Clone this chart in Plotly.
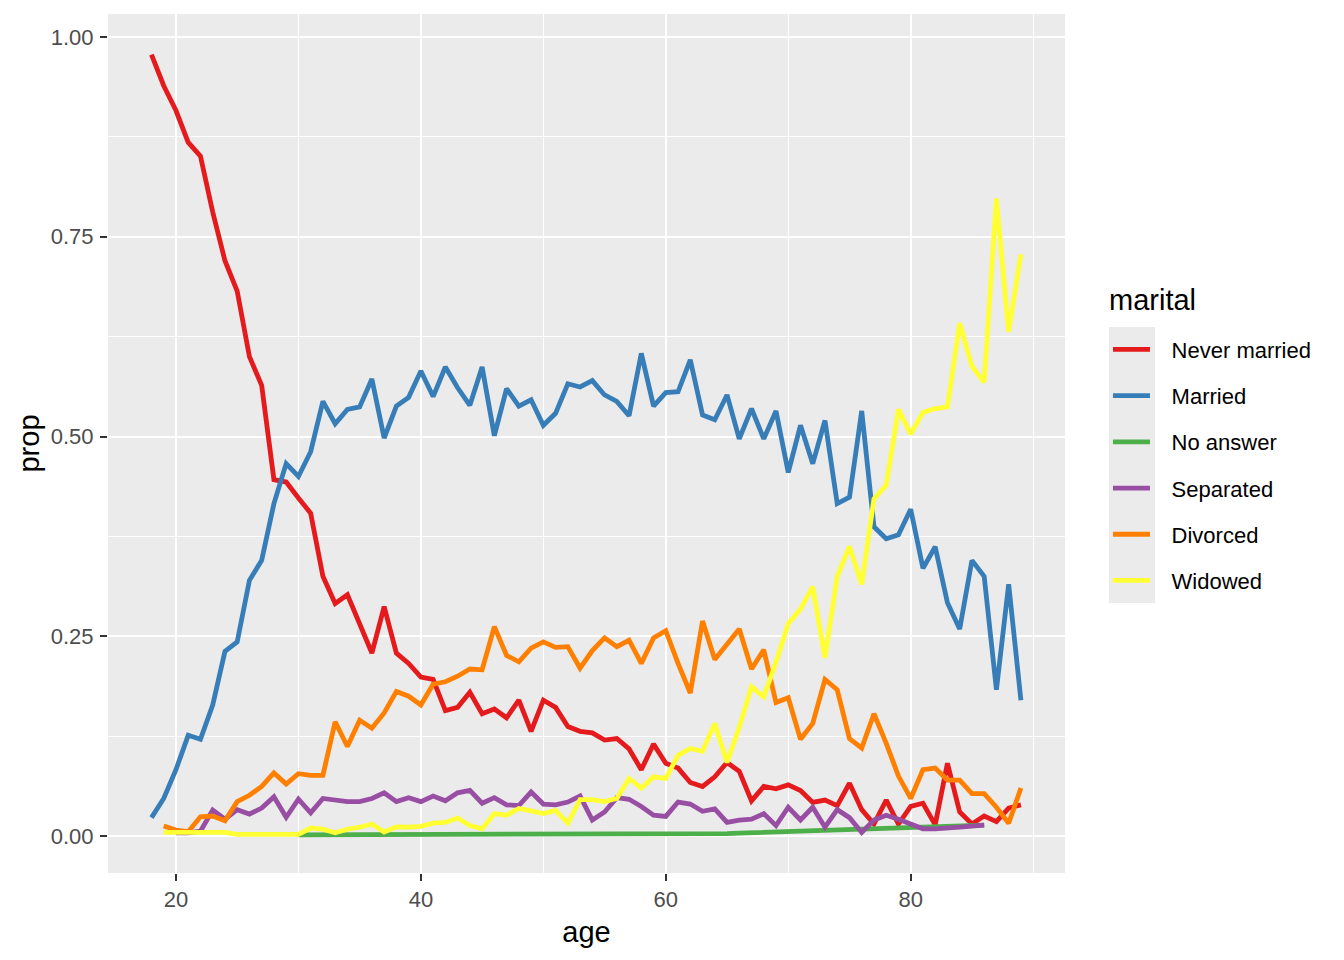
import plotly.graph_objects as go

# ---- data ----
ages_never = list(range(18, 90))
never_married = [0.978, 0.939, 0.908, 0.868, 0.851, 0.781, 0.720, 0.682, 0.600, 0.564,  # 18-27
                 0.446, 0.443, 0.423, 0.404, 0.325, 0.291, 0.302, 0.264, 0.229, 0.287,  # 28-37
                 0.229, 0.216, 0.199, 0.196, 0.157, 0.161, 0.180, 0.153, 0.159, 0.148,  # 38-47
                 0.170, 0.131, 0.170, 0.161, 0.137, 0.131, 0.129, 0.120, 0.122, 0.109,  # 48-57
                 0.083, 0.115, 0.091, 0.085, 0.067, 0.062, 0.074, 0.092, 0.081, 0.044,  # 58-67
                 0.062, 0.059, 0.064, 0.057, 0.042, 0.045, 0.038, 0.066, 0.033, 0.015,  # 68-77
                 0.045, 0.015, 0.037, 0.041, 0.014, 0.091, 0.030, 0.015, 0.025, 0.018,  # 78-87
                 0.035, 0.039]                                                          # 88-89

ages_married = list(range(18, 90))
married = [0.023, 0.047, 0.083, 0.126, 0.121, 0.164, 0.231, 0.243, 0.320, 0.345,  # 18-27
           0.416, 0.466, 0.450, 0.481, 0.544, 0.516, 0.534, 0.537, 0.572, 0.498,  # 28-37
           0.538, 0.549, 0.582, 0.550, 0.587, 0.561, 0.539, 0.587, 0.501, 0.560,  # 38-47
           0.538, 0.546, 0.514, 0.529, 0.566, 0.562, 0.570, 0.552, 0.544, 0.526,  # 48-57
           0.604, 0.538, 0.555, 0.556, 0.596, 0.527, 0.521, 0.552, 0.497, 0.535,  # 58-67
           0.497, 0.532, 0.455, 0.514, 0.466, 0.520, 0.416, 0.424, 0.532, 0.387,  # 68-77
           0.372, 0.377, 0.409, 0.335, 0.362, 0.292, 0.259, 0.345, 0.325, 0.183,  # 78-87
           0.315, 0.170]                                                          # 88-89

ages_noanswer = list(range(30, 87))
no_answer = [0.0015, 0.0015, 0.0015, 0.0015, 0.0015, 0.0015, 0.0015, 0.0015, 0.0015, 0.0015,  # 30-39
             0.0015, 0.0015, 0.0025, 0.0025, 0.0025, 0.0015, 0.0015, 0.0015, 0.0015, 0.0015,  # 40-49
             0.0015, 0.0015, 0.0015, 0.0015, 0.0015, 0.0015, 0.0015, 0.0015, 0.0015, 0.0015,  # 50-59
             0.0015, 0.0015, 0.0015, 0.0025, 0.0025, 0.003, 0.0035, 0.004, 0.0045, 0.005,     # 60-69
             0.0055, 0.006, 0.0065, 0.007, 0.0075, 0.008, 0.0085, 0.009, 0.0095, 0.010,      # 70-79
             0.0105, 0.011, 0.0115, 0.012, 0.0125, 0.013, 0.0135]                             # 80-86

ages_separated = list(range(20, 87))
separated = [0.004, 0.004, 0.006, 0.0325, 0.021, 0.033, 0.0275, 0.035, 0.049, 0.0235,  # 20-29
             0.046, 0.029, 0.047, 0.045, 0.043, 0.043, 0.047, 0.054, 0.043, 0.048,     # 30-39
             0.043, 0.050, 0.044, 0.054, 0.057, 0.041, 0.048, 0.039, 0.038, 0.055,     # 40-49
             0.040, 0.039, 0.0425, 0.050, 0.020, 0.030, 0.048, 0.046, 0.037, 0.026,    # 50-59
             0.0245, 0.0425, 0.040, 0.031, 0.034, 0.017, 0.020, 0.021, 0.028, 0.013,   # 60-69
             0.036, 0.020, 0.036, 0.011, 0.033, 0.023, 0.0045, 0.020, 0.026, 0.021,    # 70-79
             0.015, 0.009, 0.009, 0.0095, 0.011, 0.0125, 0.0135]                        # 80-86

ages_divorced = list(range(19, 90))
divorced = [0.0125, 0.0075, 0.0054, 0.024, 0.025, 0.019, 0.043, 0.051, 0.062, 0.079,  # 19-28
            0.065, 0.078, 0.076, 0.076, 0.143, 0.112, 0.145, 0.135, 0.154, 0.181,      # 29-38
            0.175, 0.164, 0.190, 0.193, 0.200, 0.209, 0.208, 0.262, 0.226, 0.218,      # 39-48
            0.235, 0.243, 0.236, 0.237, 0.210, 0.232, 0.248, 0.237, 0.245, 0.216,      # 49-58
            0.248, 0.257, 0.216, 0.179, 0.269, 0.221, 0.240, 0.259, 0.209, 0.233,      # 59-68
            0.167, 0.173, 0.121, 0.141, 0.196, 0.183, 0.122, 0.110, 0.153, 0.116,      # 69-78
            0.075, 0.047, 0.083, 0.085, 0.070, 0.070, 0.053, 0.053, 0.036, 0.016,      # 79-88
            0.060]                                                                     # 89

ages_widowed = list(range(19, 90))
widowed = [0.0045, 0.0045, 0.0045, 0.0045, 0.0045, 0.0045,                            # 19-24
           0.002, 0.002, 0.002, 0.002, 0.002, 0.002,                                  # 25-30
           0.0100, 0.0085, 0.004, 0.0085, 0.011, 0.015, 0.005, 0.0115, 0.011, 0.012,  # 31-40
           0.016, 0.017, 0.0225, 0.013, 0.009, 0.028, 0.026, 0.0345, 0.0315, 0.028,   # 41-50
           0.032, 0.016, 0.0455, 0.0455, 0.043, 0.047, 0.072, 0.060, 0.074, 0.072,    # 51-60
           0.101, 0.1096, 0.106, 0.141, 0.092, 0.136, 0.187, 0.174, 0.2175, 0.266,    # 61-70
           0.284, 0.312, 0.223, 0.325, 0.3625, 0.315, 0.422, 0.439, 0.534, 0.503,     # 71-80
           0.530, 0.535, 0.537, 0.642, 0.588, 0.568, 0.798, 0.631, 0.728]             # 81-89

series_names = ["Never married", "Married", "No answer", "Separated", "Divorced", "Widowed"]
series_x = [ages_never, ages_married, ages_noanswer, ages_separated, ages_divorced, ages_widowed]
series_y = [never_married, married, no_answer, separated, divorced, widowed]
series_colors = ["#E41A1C", "#377EB8", "#4DAF4A", "#984EA3", "#FF7F00", "#FFFF33"]

x_ticks = [20, 40, 60, 80]
x_minor = [30, 50, 70, 90]
y_ticks = [0.0, 0.25, 0.5, 0.75, 1.0]
y_tick_labels = ["0.00", "0.25", "0.50", "0.75", "1.00"]
y_minor = [0.125, 0.375, 0.625, 0.875]

FONT = "Liberation Sans, Arial, sans-serif"
LABEL_PAD = "\u00a0\u00a0\u2009"

fig = go.Figure()
for name, xs, ys, col in zip(series_names, series_x, series_y, series_colors):
    fig.add_trace(go.Scatter(
        x=xs, y=ys, mode="lines", name=LABEL_PAD + name, legendgroup=name,
        line=dict(color=col, width=4.8),
    ))

fig.update_layout(
    width=1336, height=952,
    margin=dict(l=100, r=279, t=6, b=87, pad=0),
    paper_bgcolor="white",
    plot_bgcolor="#EBEBEB",
    font=dict(family=FONT, size=22, color="black"),
    showlegend=True,
    legend=dict(
        font=dict(size=22, color="black"),
        x=1.0449, xanchor="left", y=0.6337, yanchor="top",
        bgcolor="rgba(0,0,0,0)",
        tracegroupgap=14.6,
        itemwidth=37,
    ),
    shapes=[dict(type="rect", xref="paper", yref="paper",
                 x0=1.046, x1=1.094, y0=0.3143, y1=0.6356,
                 fillcolor="#EBEBEB", line=dict(width=0), layer="below")],
    annotations=[dict(text="marital", xref="paper", yref="paper",
                      x=1.044, y=0.667, xanchor="left", yanchor="middle",
                      showarrow=False, font=dict(size=29, color="black"))],
)

fig.update_xaxes(
    range=[14.45, 92.6], tickvals=x_ticks, ticktext=[str(v) for v in x_ticks],
    showgrid=True, gridcolor="white", gridwidth=2,
    minor=dict(tickvals=x_minor, showgrid=True, gridcolor="white", gridwidth=1, ticks=""),
    ticks="outside", ticklen=7, tickwidth=2, tickcolor="#333333",
    tickfont=dict(size=22, color="#4D4D4D"),
    zeroline=False, showline=False,
    title=dict(text="age", font=dict(size=29, color="black"), standoff=10),
)
fig.update_yaxes(
    range=[-0.0463, 1.0288], tickvals=y_ticks, ticktext=y_tick_labels,
    showgrid=True, gridcolor="white", gridwidth=2,
    minor=dict(tickvals=y_minor, showgrid=True, gridcolor="white", gridwidth=1, ticks=""),
    ticks="outside", ticklen=7, tickwidth=2, tickcolor="#333333",
    tickfont=dict(size=22, color="#4D4D4D"),
    ticklabelstandoff=2,
    zeroline=False, showline=False,
    title=dict(text="prop", font=dict(size=29, color="black"), standoff=2),
)

fig.write_html("out.html")
